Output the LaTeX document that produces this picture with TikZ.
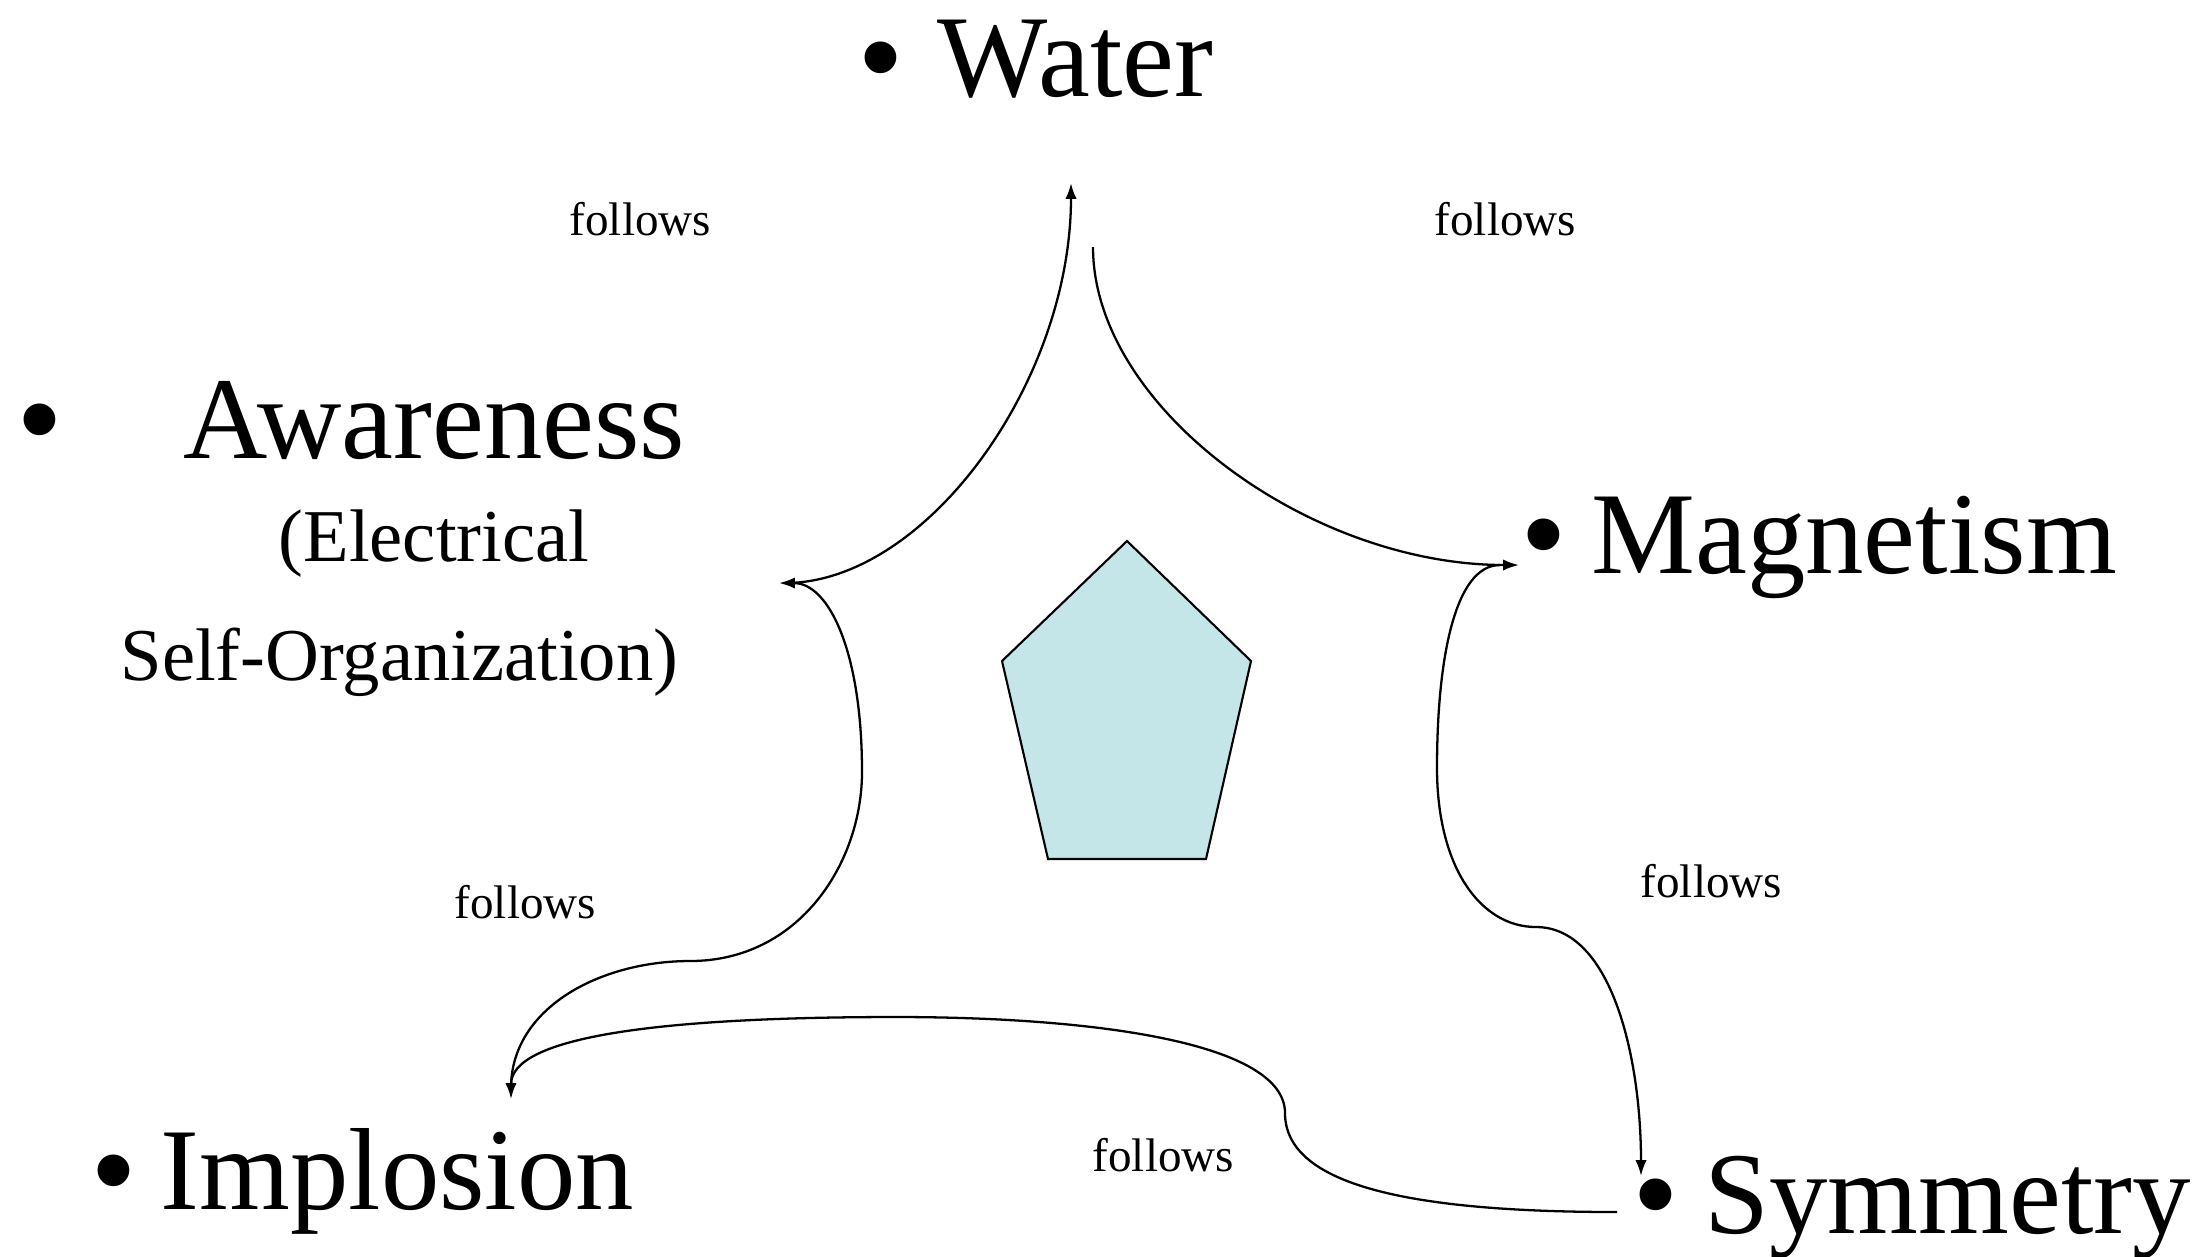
\documentclass[tikz,border=0pt]{standalone}
\usepackage{fontspec}
\setmainfont{Liberation Serif}
\setsansfont{Liberation Sans}
\usetikzlibrary{arrows.meta}
\definecolor{pentablue}{RGB}{196,230,232}
\newcommand{\dotmark}{{\sffamily •}}

\begin{document}
\begin{tikzpicture}
        [
          x=0.01cm, y=-0.01cm,
          item/.style={anchor=base west, inner sep=0pt, font=\fontsize{33.2}{40}\selectfont},
          sub/.style={anchor=base west, inner sep=0pt, font=\fontsize{21.2}{25}\selectfont},
          rel/.style={anchor=base west, inner sep=0pt, font=\fontsize{13.4}{16}\selectfont},
          link/.style={line width=0.65pt, -{Latex[length=4.5pt,width=3.2pt]}}
        ]
        \useasboundingbox (0,0) rectangle (2209,1256);
        % items
        \node [item] (water) at (860,96) {\dotmark\hspace{0.36cm}Water};
        \node [item] (aware) at (19,458) {\dotmark\hspace{1.23cm}Awareness};
        \node [sub] (elec) at (278,561) {(Electrical};
        \node [sub] (selforg) at (120,680) {Self-Organization)};
        \node [item] (magnet) at (1523,573) {\dotmark\hspace{0.27cm}Magnetism};
        \node [item] (implo) at (93,1209) {\dotmark\hspace{0.26cm}Implosion};
        \node [item] (symm) at (1635,1233) {\dotmark\hspace{0.28cm}Symmetry};
        % labels
        \node [rel] (f1) at (569,235) {follows};
        \node [rel] (f2) at (1434,235) {follows};
        \node [rel] (f3) at (1640,897) {follows};
        \node [rel] (f4) at (454,918) {follows};
        \node [rel] (f5) at (1092,1171) {follows};
        % pentagon
        \draw [line width=0.6pt, fill=pentablue]
        (1127,541) -- (1251,661) -- (1206,859) -- (1048,859) -- (1002,661) -- cycle;
        % end points
        \coordinate (awareEnd) at (779,583);
        \coordinate (awareStart) at (785,583);
        \coordinate (waterEnd) at (1071,183);
        \coordinate (waterStart) at (1093,247);
        \coordinate (magEnd) at (1519,565);
        \coordinate (magStart) at (1500,565);
        \coordinate (symEnd) at (1641,1176);
        \coordinate (symStart) at (1617,1212);
        \coordinate (impEnd) at (511,1099);
        \coordinate (impStart) at (511,1088);
        % follows edges
        \draw [link]
        (awareStart) .. controls +(140,0) and +(0,200) .. (waterEnd);
        \draw [link]
        (waterStart) .. controls +(0,160) and +(-210,0) .. (magEnd);
        \draw [link]
        (magStart) .. controls +(-45,0) and +(0,-110) .. (1437,768)
        .. controls +(0,100) and +(-55,0) .. (1536,927)
        .. controls +(75,0) and +(0,-120) .. (symEnd);
        \draw [link]
        (symStart) .. controls +(-215,0) and +(0,70) .. (1285,1113)
        .. controls +(0,-70) and +(200,0) .. (896,1017)
        .. controls +(-250,0) and +(0,-60) .. (impEnd);
        \draw [link]
        (impStart) .. controls +(0,-80) and +(-90,0) .. (690,961)
        .. controls +(110,0) and +(0,90) .. (862,772)
        .. controls +(0,-120) and +(50,0) .. (awareEnd);
        \end{tikzpicture}
\end{document}
